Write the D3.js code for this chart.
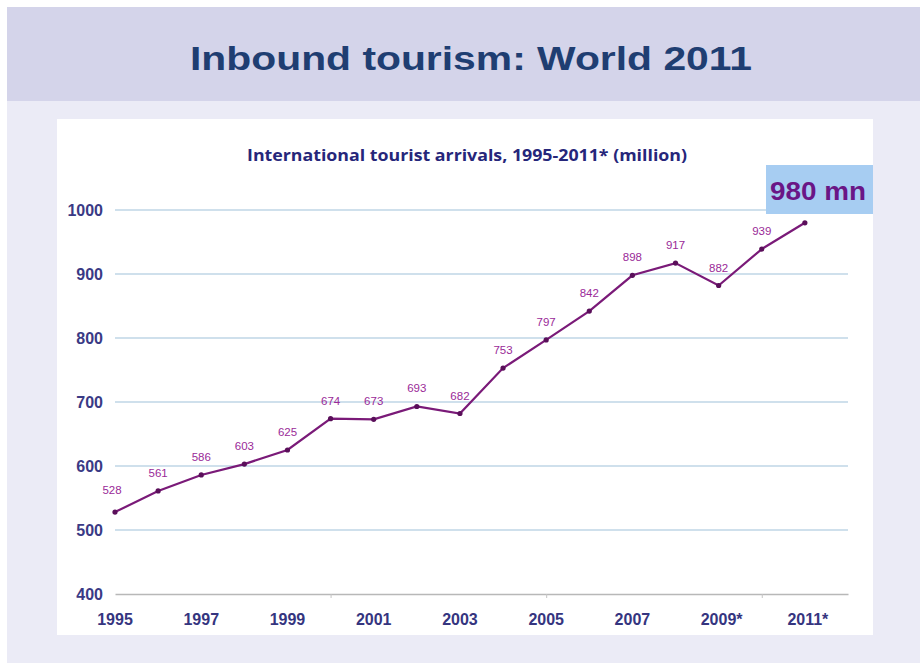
<!DOCTYPE html>
<html>
<head>
<meta charset="utf-8">
<script src="https://cdn.jsdelivr.net/npm/d3@7"></script>
<style>
  body { margin: 0; background: #fff; }
  svg { display: block; }
</style>
</head>
<body>
<svg id="chart" width="920" height="663"></svg>
<script>
// International tourist arrivals (million)
const years = ['1995', '1996', '1997', '1998', '1999', '2000', '2001', '2002', '2003',
  '2004', '2005', '2006', '2007', '2008', '2009*', '2010', '2011*'];
const arrivals = [528, 561, 586, 603, 625, 674, 673, 693, 682, 753, 797, 842, 898, 917, 882, 939, 980];
const yTicks = [400, 500, 600, 700, 800, 900, 1000];
const xLabelYears = ['1995', '1997', '1999', '2001', '2003', '2005', '2007', '2009*', '2011*'];
const xTickIdx = [5, 10, 15];

const svg = d3.select('#chart');

// page background
svg.append('rect').attr('x', 7).attr('y', 7).attr('width', 913).attr('height', 656).attr('fill', '#ebebf6');
svg.append('rect').attr('x', 7).attr('y', 7).attr('width', 913).attr('height', 94).attr('fill', '#d4d4ea');
svg.append('text')
  .attr('x', 471).attr('y', 70)
  .attr('text-anchor', 'middle')
  .attr('font-family', 'Liberation Sans, Arial, sans-serif')
  .attr('font-weight', 'bold')
  .attr('font-size', 34)
  .attr('textLength', 562)
  .attr('lengthAdjust', 'spacingAndGlyphs')
  .attr('fill', '#1f3e72')
  .text('Inbound tourism: World 2011');

// white panel
svg.append('rect').attr('x', 57).attr('y', 119).attr('width', 816).attr('height', 516).attr('fill', '#fff');

svg.append('text')
  .attr('x', 467).attr('y', 161)
  .attr('text-anchor', 'middle')
  .attr('font-family', 'Open Sans, sans-serif')
  .attr('font-weight', 'bold')
  .attr('font-size', 15.5)
  .attr('textLength', 440)
  .attr('lengthAdjust', 'spacingAndGlyphs')
  .attr('fill', '#26267a')
  .text('International tourist arrivals, 1995-2011* (million)');

const x0 = 115, x1 = 848;
const x = d3.scaleLinear().domain([0, years.length]).range([x0, x1]);
const y = d3.scaleLinear().domain([400, 1000]).range([594, 210]);

// gridlines
svg.append('g')
  .selectAll('line')
  .data(yTicks.filter(d => d > 400))
  .join('line')
  .attr('x1', x0).attr('x2', x1)
  .attr('y1', d => y(d)).attr('y2', d => y(d))
  .attr('stroke', '#cfe0ec')
  .attr('stroke-width', 2);

// bottom axis line
const xAxis = d3.axisBottom(x)
  .tickValues(xTickIdx)
  .tickSize(4)
  .tickSizeOuter(0)
  .tickFormat('');
const gx = svg.append('g').attr('transform', `translate(0,${y(400)})`).call(xAxis);
gx.select('.domain').attr('stroke', '#b8b8b8').attr('stroke-width', 1.5);
gx.selectAll('.tick line').attr('stroke', '#c4c4c4');

// x labels
svg.append('g')
  .selectAll('text')
  .data(xLabelYears)
  .join('text')
  .attr('x', d => x(years.indexOf(d)) + (d.endsWith('*') ? 3 : 0))
  .attr('y', 625)
  .attr('text-anchor', 'middle')
  .attr('font-family', 'Liberation Sans, Arial, sans-serif')
  .attr('font-weight', 'bold')
  .attr('font-size', 16)
  .attr('fill', '#35357f')
  .text(d => d);

// y labels
const yAxis = d3.axisLeft(y).tickValues(yTicks).tickSize(0).tickPadding(0).tickFormat(d3.format('d'));
const gy = svg.append('g').attr('transform', 'translate(103,0)').call(yAxis);
gy.select('.domain').remove();
gy.selectAll('.tick text')
  .attr('font-family', 'Liberation Sans, Arial, sans-serif')
  .attr('font-weight', 'bold')
  .attr('font-size', 16)
  .attr('fill', '#3a3a85');

// line
const line = d3.line().x((d, i) => x(i)).y(d => y(d));
svg.append('path')
  .datum(arrivals)
  .attr('d', line)
  .attr('fill', 'none')
  .attr('stroke', '#7a1a78')
  .attr('stroke-width', 2.2);

svg.append('g')
  .selectAll('circle')
  .data(arrivals)
  .join('circle')
  .attr('cx', (d, i) => x(i))
  .attr('cy', d => y(d))
  .attr('r', 2.6)
  .attr('fill', '#5a0f5a');

// value labels
svg.append('g')
  .selectAll('text')
  .data(arrivals.slice(0, -1))
  .join('text')
  .attr('x', (d, i) => x(i) + (i === 0 ? -3 : 0))
  .attr('y', (d, i) => y(d) - (i === 0 ? 18 : 14))
  .attr('text-anchor', 'middle')
  .attr('font-family', 'Liberation Sans, Arial, sans-serif')
  .attr('font-size', 11.5)
  .attr('fill', '#9a2a98')
  .text(d => d);

// highlight box
const last = arrivals[arrivals.length - 1];
svg.append('rect').attr('x', 766).attr('y', 165).attr('width', 107).attr('height', 49).attr('fill', '#a7cdf2');
svg.append('text')
  .attr('x', 818).attr('y', 200)
  .attr('text-anchor', 'middle')
  .attr('font-family', 'Liberation Sans, Arial, sans-serif')
  .attr('font-weight', 'bold')
  .attr('font-size', 25)
  .attr('textLength', 96)
  .attr('lengthAdjust', 'spacingAndGlyphs')
  .attr('fill', '#6a1686')
  .text(`${last} mn`);
</script>
</body>
</html>
